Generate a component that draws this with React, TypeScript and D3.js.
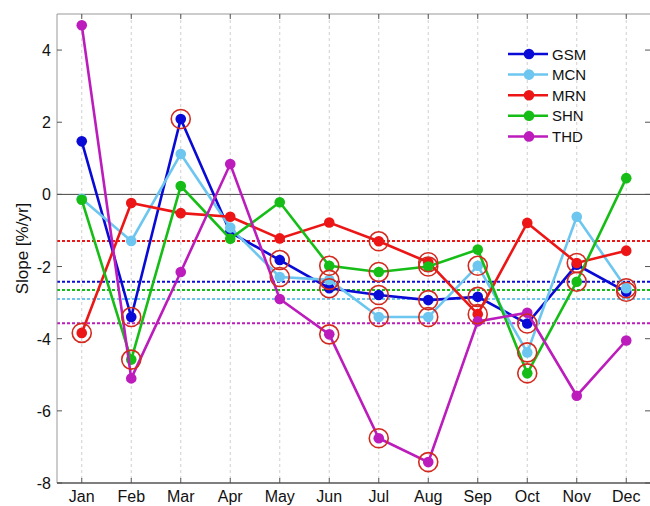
import React from "react";
import * as d3 from "d3";

// Month labels along the x axis
const months = ["Jan", "Feb", "Mar", "Apr", "May", "Jun", "Jul", "Aug", "Sep", "Oct", "Nov", "Dec"];

// Monthly trend slopes [%/yr] per station
const gsm = [1.47, -3.4, 2.09, -1.05, -1.82, -2.6, -2.79, -2.93, -2.84, -3.58, -1.95, -2.7];
const mcn = [-0.12, -1.29, 1.12, -0.92, -2.29, -2.37, -3.4, -3.4, -1.98, -4.38, -0.62, -2.6];
const mrn = [-3.84, -0.24, -0.52, -0.62, -1.22, -0.78, -1.3, -1.88, -3.32, -0.79, -1.9, -1.56];
const shn = [-0.15, -4.58, 0.23, -1.23, -0.22, -1.98, -2.15, -2.0, -1.53, -4.96, -2.42, 0.45];
const thd = [4.69, -5.1, -2.15, 0.84, -2.9, -3.88, -6.76, -7.42, -3.52, -3.28, -5.58, -4.05];

// Annual slope per station (dotted horizontal reference lines)
const annual = [-2.42, -2.9, -1.29, -2.65, -3.57];

// Months (0-based) where the monthly slope is significant
const gsmSig = [1, 2, 4, 5, 6, 7, 8, 9, 11];
const mcnSig = [4, 5, 6, 7, 8, 9, 11];
const mrnSig = [0, 6, 7, 8, 10];
const shnSig = [1, 5, 6, 7, 9, 10];
const thdSig = [5, 6, 7];

const names = ["GSM", "MCN", "MRN", "SHN", "THD"];
const colors = ["#0a0ad6", "#6cc6ef", "#ec1616", "#17bd17", "#bb1cbb"];
const seriesValues = [gsm, mcn, mrn, shn, thd];
const seriesSig = [gsmSig, mcnSig, mrnSig, shnSig, thdSig];

const yTicks = [-8, -6, -4, -2, 0, 2, 4];

const W = 650;
const H = 506;
const left = 57;
const right = 651;
const top = 14;
const bottom = 483;

export default function App() {
  const x = d3.scaleLinear().domain([0.5, 12.5]).range([left, right]);
  const y = d3.scaleLinear().domain([-8, 5]).range([bottom, top]);
  const line = d3
    .line<number>()
    .x((_, i) => x(i + 1))
    .y((d) => y(d));
  const font = "'Liberation Sans', Arial, Helvetica, sans-serif";
  const axisColor = "#555";

  return (
    <svg
      width={W}
      height={H}
      style={{ position: "absolute", left: 0, top: 0, background: "#fff" }}
      fontFamily={font}
    >
      <rect x={0} y={0} width={W} height={H} fill="#fff" />
      {/* vertical month grid */}
      {months.map((m, i) => (
        <line
          key={"g" + m}
          x1={x(i + 1)}
          x2={x(i + 1)}
          y1={top}
          y2={bottom}
          stroke="#cfcfcf"
          strokeWidth={1}
          strokeDasharray="3,3"
        />
      ))}
      {/* zero line */}
      <line x1={left} x2={right} y1={y(0)} y2={y(0)} stroke="#444" strokeWidth={1} />
      {/* annual slope reference lines */}
      {annual.map((v, k) => (
        <line
          key={"a" + k}
          x1={left}
          x2={right}
          y1={y(v)}
          y2={y(v)}
          stroke={colors[k]}
          strokeWidth={2}
          strokeDasharray="3,2"
        />
      ))}
      {/* series lines and markers */}
      {seriesValues.map((vals, k) => (
        <g key={"s" + k}>
          <path d={line(vals) || ""} fill="none" stroke={colors[k]} strokeWidth={2.6} />
          {vals.map((v, i) => (
            <circle key={i} cx={x(i + 1)} cy={y(v)} r={5.3} fill={colors[k]} />
          ))}
        </g>
      ))}
      {/* significance rings */}
      {seriesSig.map((idx, k) =>
        idx.map((i) => (
          <circle
            key={"r" + k + "-" + i}
            cx={x(i + 1)}
            cy={y(seriesValues[k][i])}
            r={9.5}
            fill="none"
            stroke="#d22a1e"
            strokeWidth={1.6}
          />
        ))
      )}
      {/* axes box */}
      <line x1={left} x2={right} y1={top} y2={top} stroke="#999" strokeWidth={1} />
      <line x1={left} x2={left} y1={top} y2={bottom} stroke="#999" strokeWidth={1} />
      <line x1={left} x2={right} y1={bottom} y2={bottom} stroke={axisColor} strokeWidth={1.5} />
      {/* x ticks */}
      {months.map((m, i) => (
        <g key={"xt" + m}>
          <line x1={x(i + 1)} x2={x(i + 1)} y1={bottom} y2={bottom - 5} stroke={axisColor} />
          <line x1={x(i + 1)} x2={x(i + 1)} y1={top} y2={top + 5} stroke={axisColor} />
          <text x={x(i + 1)} y={502} textAnchor="middle" fontSize={16} fill="#111">
            {m}
          </text>
        </g>
      ))}
      {/* y ticks */}
      {yTicks.map((t) => (
        <g key={"yt" + t}>
          <line x1={left} x2={left + 5} y1={y(t)} y2={y(t)} stroke={axisColor} />
          <line x1={right - 1} x2={right - 6} y1={y(t)} y2={y(t)} stroke={axisColor} />
          <text x={51} y={y(t) + 6} textAnchor="end" fontSize={16} fill="#111">
            {t}
          </text>
        </g>
      ))}
      <text
        transform={`translate(28,${(top + bottom) / 2}) rotate(-90)`}
        textAnchor="middle"
        fontSize={17}
        fill="#111"
      >
        Slope [%/yr]
      </text>
      {/* legend */}
      {names.map((n, k) => {
        const ly = 54 + k * 20.6;
        return (
          <g key={"l" + n}>
            <line x1={508} x2={548} y1={ly} y2={ly} stroke={colors[k]} strokeWidth={2.5} />
            <circle cx={529} cy={ly} r={5.3} fill={colors[k]} />
            <text x={552} y={ly + 5.5} fontSize={15} fill="#111">
              {n}
            </text>
          </g>
        );
      })}
    </svg>
  );
}
